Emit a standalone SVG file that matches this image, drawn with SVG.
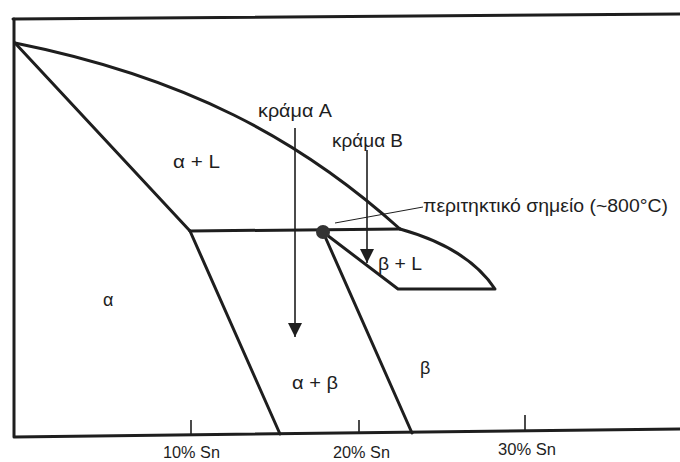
<svg xmlns="http://www.w3.org/2000/svg" width="680" height="462" viewBox="0 0 680 462">
<style>
.thick{fill:none;stroke:#1e1e1e;stroke-width:3;stroke-linecap:round;stroke-linejoin:round}
.thin{fill:none;stroke:#1e1e1e;stroke-width:1.6}
.hair{fill:none;stroke:#1e1e1e;stroke-width:1}
.lbl{font-family:"Liberation Sans",Arial,sans-serif;font-size:18px;fill:#1e1e1e}
.ax{font-family:"Liberation Sans",Arial,sans-serif;font-size:16px;fill:#1e1e1e}
</style>
<defs>
<marker id="arr" viewBox="0 0 10 10" refX="10" refY="5" markerWidth="14" markerHeight="14" markerUnits="userSpaceOnUse" orient="auto">
<path d="M0,0 L10,5 L0,10 Z" fill="#1e1e1e"/>
</marker>
</defs>
<rect width="680" height="462" fill="#ffffff"/>
<g id="axes">
<path class="thick" d="M13,19 L680,14"/>
<path class="thick" d="M14,19 L14,437 L680,429"/>
<path class="thin" d="M191,420 L191,435 M359,420 L359,433 M525,415 L525,431"/>
<text class="ax" x="163" y="458" textLength="57" lengthAdjust="spacingAndGlyphs">10% Sn</text>
<text class="ax" x="333" y="458" textLength="57" lengthAdjust="spacingAndGlyphs">20% Sn</text>
<text class="ax" x="498" y="455" textLength="58" lengthAdjust="spacingAndGlyphs">30% Sn</text>
</g>
<g id="phase-lines">
<path id="liquidus" class="thick" d="M15,43 C185,77 300,139 400,229"/>
<path id="solidus-alpha" class="thick" d="M15,43 L190,231"/>
<path id="peritectic-line" class="thick" d="M190,231 L400,229"/>
<path id="solvus-alpha" class="thick" d="M190,231 L280,434"/>
<path id="solvus-beta" class="thick" d="M323,232 L412,433"/>
<path id="beta-liquid" class="thick" d="M323,232 L398,289 L495,289 Q468,248 400,229"/>
<circle id="peritectic-point" cx="323" cy="232" r="7" fill="#333"/>
</g>
<g id="connectors">
<path id="alloy-A" class="thin" d="M295,128 L295,337" marker-end="url(#arr)"/>
<path id="alloy-B" class="thin" d="M367,150 L367,263" marker-end="url(#arr)"/>
<path id="leader" class="hair" d="M335,223 L423,207"/>
</g>
<g id="labels">
<text class="lbl" x="258" y="117" textLength="74" lengthAdjust="spacingAndGlyphs">κράμα A</text>
<text class="lbl" x="332" y="147" textLength="71" lengthAdjust="spacingAndGlyphs">κράμα B</text>
<text class="lbl" x="423" y="212" font-size="17" textLength="245" lengthAdjust="spacingAndGlyphs">περιτηκτικό σημείο (~800°C)</text>
<text class="lbl" x="173" y="168" textLength="47" lengthAdjust="spacingAndGlyphs">α + L</text>
<text class="lbl" x="103" y="306">α</text>
<text class="lbl" x="292" y="389" textLength="46" lengthAdjust="spacingAndGlyphs">α + β</text>
<text class="lbl" x="420" y="374">β</text>
<text class="lbl" x="378" y="270" textLength="44" lengthAdjust="spacingAndGlyphs">β + L</text>
</g>
</svg>
